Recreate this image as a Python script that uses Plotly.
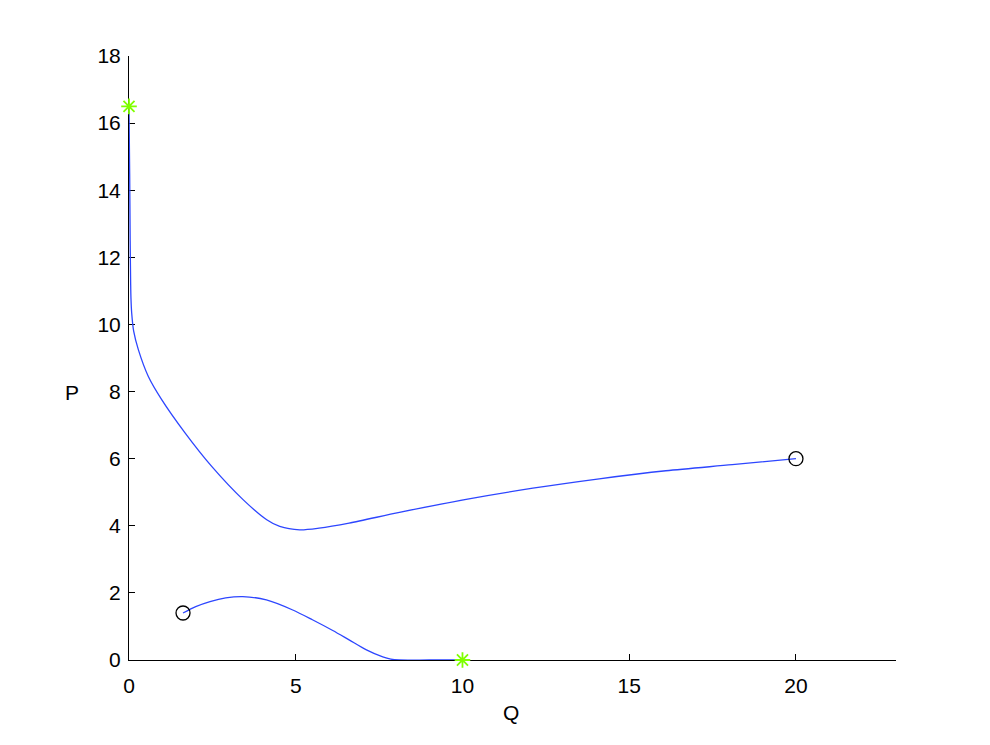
import plotly.graph_objects as go

# Upper trajectory (Q, P)
upper_q = [0.0, 0.02, 0.035, 0.05, 0.06, 0.08, 0.14, 0.28, 0.58, 0.98, 1.68, 2.48, 3.42, 4.13, 4.52, 5.12, 5.7, 6.6, 8.11, 10.11, 12.11, 14.1, 16.1, 18.09, 20.0]
upper_p = [16.5, 14.5, 12.5, 11.2, 10.75, 10.35, 9.8, 9.25, 8.45, 7.76, 6.77, 5.77, 4.78, 4.18, 3.98, 3.88, 3.93, 4.08, 4.40, 4.79, 5.12, 5.40, 5.64, 5.82, 6.0]

# Lower trajectory (Q, P)
lower_q = [1.62, 2.0, 2.43, 2.9, 3.41, 4.12, 4.91, 5.5, 6.11, 6.6, 7.12, 7.61, 7.85, 8.1, 9.0, 10.0]
lower_p = [1.40, 1.59, 1.74, 1.85, 1.89, 1.79, 1.49, 1.20, 0.88, 0.60, 0.30, 0.09, 0.025, 0.0, 0.0, 0.0]

# Start points (circles) and end points (stars)
start_q = [20.0, 1.62]
start_p = [6.0, 1.40]
end_q = [0.0, 10.0]
end_p = [16.5, 0.0]

x_ticks = [0, 5, 10, 15, 20]
y_ticks = [0, 2, 4, 6, 8, 10, 12, 14, 16, 18]

line_color = "#2d46ff"
star_color = "#7fff00"

fig = go.Figure()
fig.add_trace(go.Scatter(x=upper_q, y=upper_p, mode="lines", line=dict(color=line_color, width=1.3, shape="spline", smoothing=0.8), cliponaxis=False))
fig.add_trace(go.Scatter(x=lower_q, y=lower_p, mode="lines", line=dict(color=line_color, width=1.3, shape="spline", smoothing=0.8), cliponaxis=False))
fig.add_trace(go.Scatter(x=start_q, y=start_p, mode="markers",
                         marker=dict(symbol="circle-open", size=14, color="black", line=dict(width=1.3, color="black")),
                         cliponaxis=False))
fig.add_trace(go.Scatter(x=end_q, y=end_p, mode="markers",
                         marker=dict(symbol="asterisk-open", size=13, color=star_color, line=dict(width=1.8, color=star_color)),
                         cliponaxis=False))

font = dict(family="Liberation Sans, Arial, sans-serif", size=21, color="black")

L, R, T, B = 121, 102, 48, 93
pw = 990 - L - R
ph = 745 - T - B

fig.update_layout(
    width=990, height=745,
    margin=dict(l=L, r=R, t=T, b=B),
    paper_bgcolor="white", plot_bgcolor="white",
    showlegend=False,
    font=font,
    xaxis=dict(range=[0, 23], tickvals=x_ticks, ticks="inside", ticklen=6, tickcolor="black",
               showline=True, linecolor="black", linewidth=1, mirror=False, showgrid=False,
               zeroline=False, layer="below traces", tickfont=font, ticklabelstandoff=7),
    yaxis=dict(range=[0, 18], tickvals=y_ticks, ticks="inside", ticklen=6, tickcolor="black",
               showline=True, linecolor="black", linewidth=1, mirror=False, showgrid=False,
               zeroline=False, layer="below traces", tickfont=font, ticklabelstandoff=3),
    annotations=[
        dict(text="Q", xref="paper", yref="paper", x=(511 - 129) / pw, y=(660 - 712) / ph,
             xanchor="center", yanchor="middle", showarrow=False, font=font),
        dict(text="P", xref="paper", yref="paper", x=(72 - 129) / pw, y=(660 - 392) / ph,
             xanchor="center", yanchor="middle", showarrow=False, font=font),
    ],
)

fig.write_html("out.html")
